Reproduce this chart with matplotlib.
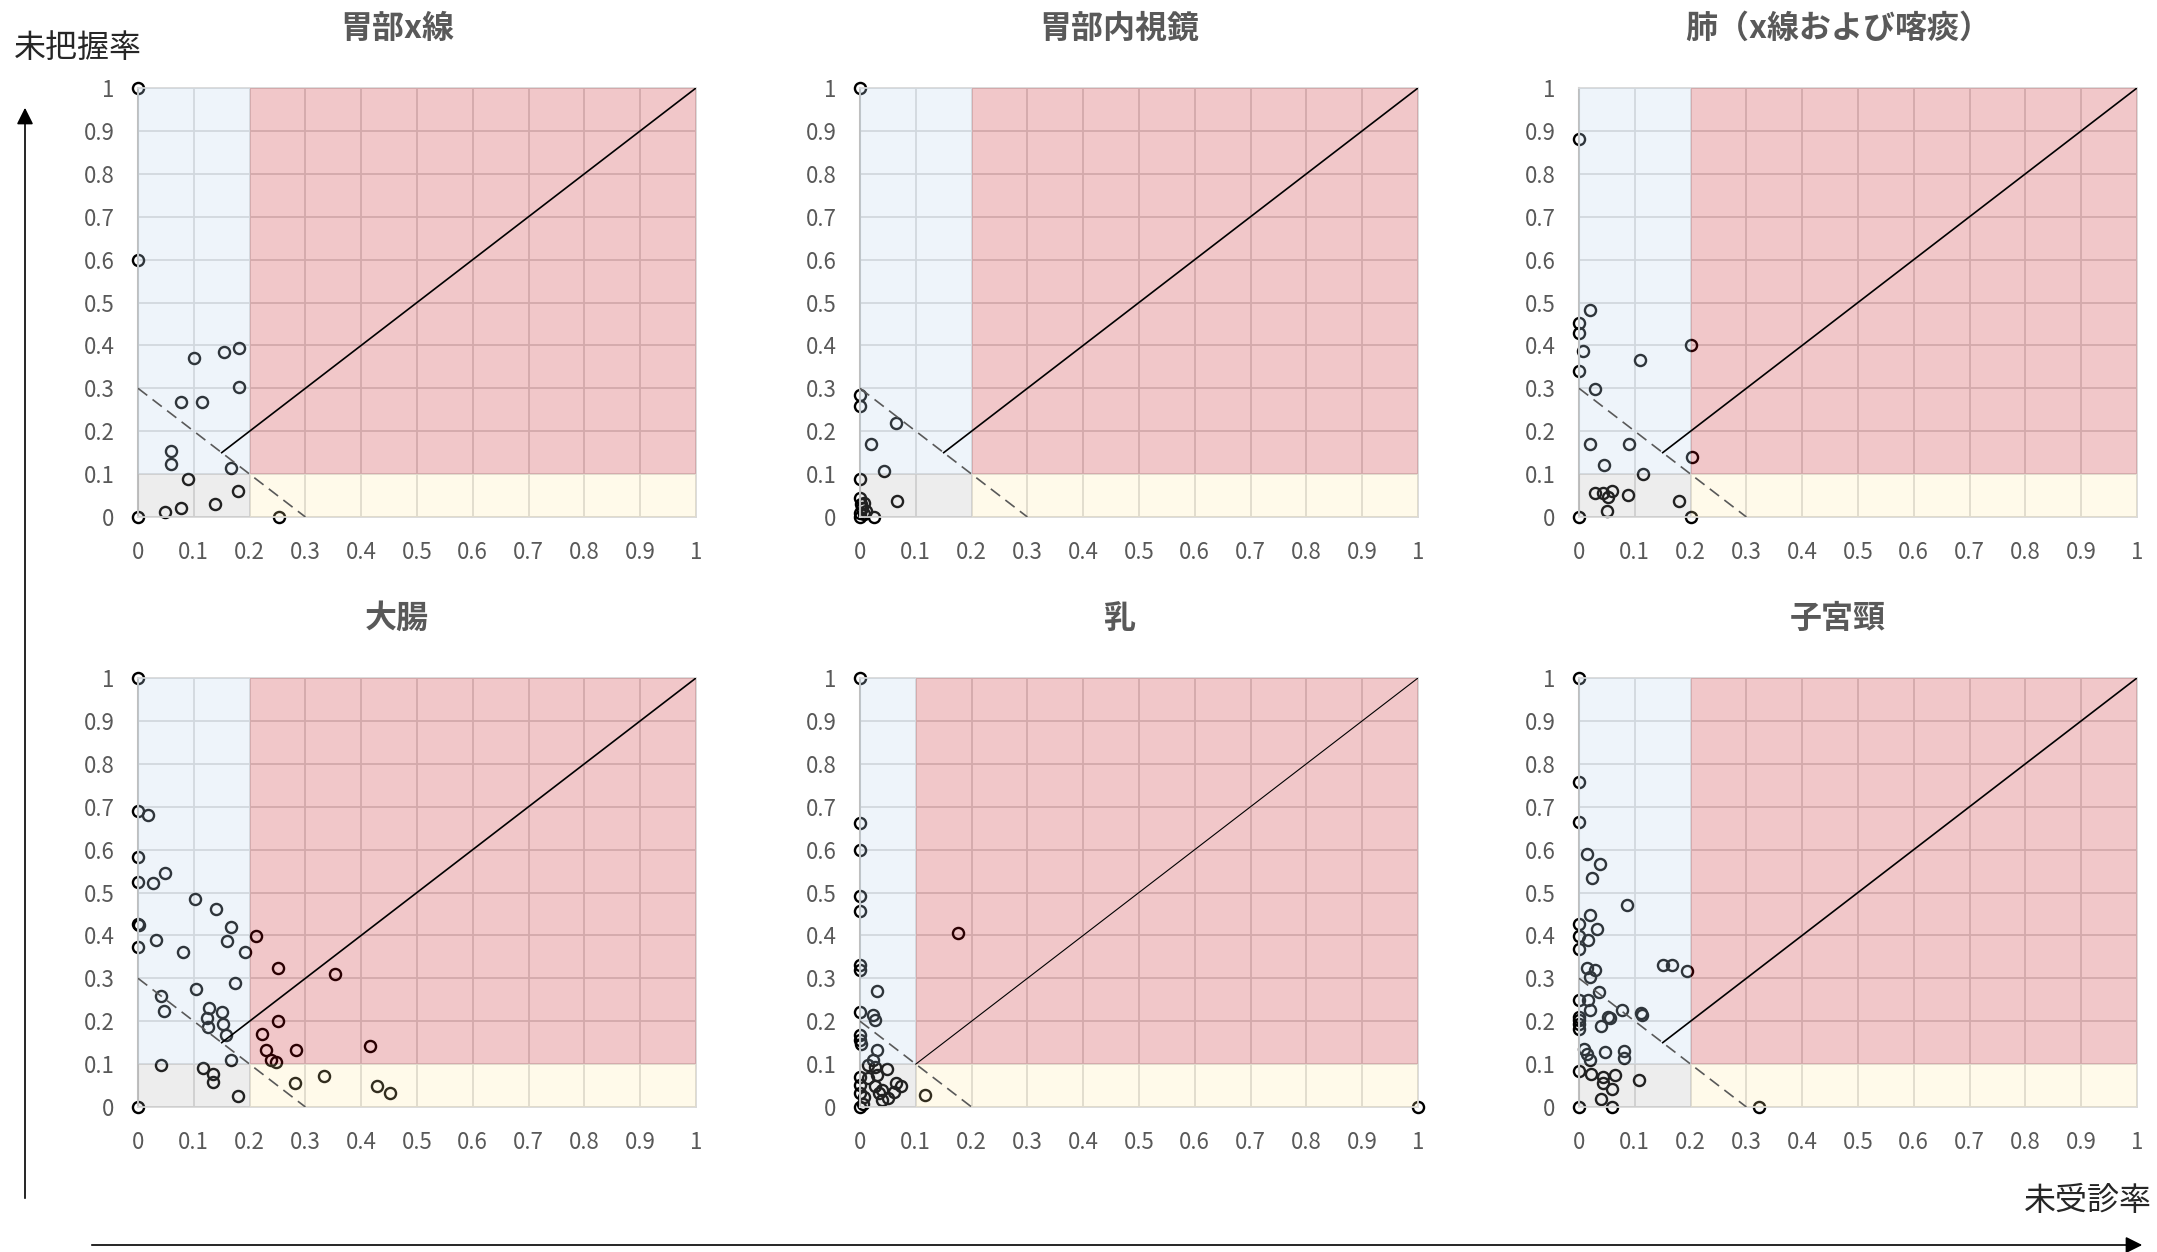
import matplotlib
matplotlib.use("Agg")
import matplotlib.pyplot as plt
from matplotlib.patches import Rectangle, FancyArrowPatch

plt.rcParams['font.family'] = ['Noto Sans CJK JP', 'DejaVu Sans']

# --- data: (未受診率, 未把握率) per cancer type ---
titles = ["胃部x線", "胃部内視鏡", "肺（x線および喀痰）", "大腸", "乳", "子宮頸"]

stomach_xray_x = [0, 0, 0, 0.101, 0.154, 0.181, 0.181, 0.077, 0.115, 0.060, 0.060,
                  0.090, 0.167, 0.180, 0.138, 0.077, 0.048, 0.252]
stomach_xray_y = [1.0, 0.60, 0, 0.371, 0.385, 0.394, 0.304, 0.267, 0.267, 0.154, 0.123,
                  0.089, 0.114, 0.061, 0.030, 0.022, 0.012, 0]

stomach_endo_x = [0, 0, 0, 0.064, 0.019, 0.043, 0, 0.067, 0, 0.007, 0.003, 0, 0,
                  0.011, 0.025, 0.002, 0.008]
stomach_endo_y = [1.0, 0.284, 0.259, 0.218, 0.170, 0.107, 0.089, 0.037, 0.044, 0.033,
                  0.022, 0.010, 0, 0.014, 0, 0.030, 0.006]

lung_x = [0, 0.020, 0, 0, 0.008, 0, 0.029, 0.110, 0.200, 0.019, 0.090, 0.044, 0.114,
          0.202, 0.029, 0.043, 0.060, 0.052, 0.088, 0.179, 0.050, 0, 0.200]
lung_y = [0.881, 0.483, 0.452, 0.428, 0.388, 0.340, 0.298, 0.367, 0.400, 0.170, 0.170,
          0.121, 0.100, 0.139, 0.055, 0.055, 0.061, 0.047, 0.051, 0.037, 0.013, 0, 0]

colon_x = [0, 0, 0.018, 0, 0, 0.027, 0.048, 0.103, 0.139, 0.166, 0, 0.002, 0, 0.032,
           0.080, 0.159, 0.192, 0.211, 0.250, 0.353, 0.174, 0.104, 0.041, 0.047, 0.128,
           0.150, 0.124, 0.153, 0.126, 0.158, 0.250, 0.223, 0.229, 0.284, 0.239, 0.247,
           0.415, 0.042, 0.167, 0.116, 0.134, 0.135, 0.179, 0.282, 0.334, 0.428, 0.452, 0]
colon_y = [1.0, 0.691, 0.680, 0.582, 0.525, 0.523, 0.545, 0.484, 0.462, 0.420, 0.426,
           0.424, 0.372, 0.389, 0.362, 0.386, 0.361, 0.399, 0.323, 0.311, 0.289, 0.275,
           0.258, 0.223, 0.231, 0.221, 0.208, 0.193, 0.186, 0.168, 0.200, 0.171, 0.132,
           0.132, 0.110, 0.104, 0.143, 0.098, 0.110, 0.090, 0.078, 0.059, 0.026, 0.055,
           0.073, 0.048, 0.032, 0]

breast_x = [0, 0, 0, 0, 0, 0.176, 0, 0, 0.030, 0, 0.023, 0.026, 0, 0, 0.002, 0.030,
            0.023, 0.014, 0.026, 0.049, 0, 0.014, 0.030, 0, 0.026, 0.040, 0.064, 0.073,
            0.061, 0.040, 0, 0.008, 0.005, 0, 0.116, 1.0, 0.034, 0.050]
breast_y = [1.0, 0.661, 0.600, 0.493, 0.456, 0.405, 0.331, 0.320, 0.270, 0.221, 0.215,
            0.203, 0.168, 0.156, 0.146, 0.132, 0.109, 0.098, 0.094, 0.089, 0.071, 0.067,
            0.075, 0.051, 0.049, 0.040, 0.055, 0.049, 0.036, 0.016, 0.032, 0.024, 0.006,
            0, 0.028, 0, 0.032, 0.020]

cervix_x = [0, 0, 0, 0.014, 0.037, 0.024, 0.086, 0.019, 0, 0.032, 0, 0.016, 0, 0.015,
            0.028, 0.019, 0.150, 0.166, 0.194, 0.035, 0, 0.016, 0.020, 0.077, 0, 0, 0,
            0, 0.052, 0.055, 0.112, 0.113, 0.040, 0.009, 0.015, 0.020, 0.046, 0.080,
            0.081, 0, 0.021, 0.043, 0.065, 0.043, 0.107, 0.059, 0.039, 0, 0.059, 0.322]
cervix_y = [1.0, 0.758, 0.665, 0.589, 0.566, 0.533, 0.470, 0.447, 0.426, 0.416, 0.398,
            0.389, 0.368, 0.324, 0.319, 0.302, 0.330, 0.330, 0.318, 0.268, 0.249, 0.249,
            0.227, 0.227, 0.210, 0.202, 0.193, 0.182, 0.210, 0.208, 0.220, 0.214, 0.189,
            0.136, 0.123, 0.109, 0.128, 0.131, 0.114, 0.084, 0.076, 0.070, 0.075, 0.056,
            0.062, 0.041, 0.018, 0, 0, 0]

xs = [stomach_xray_x, stomach_endo_x, lung_x, colon_x, breast_x, cervix_x]
ys = [stomach_xray_y, stomach_endo_y, lung_y, colon_y, breast_y, cervix_y]
thresholds = [0.2, 0.2, 0.2, 0.2, 0.1, 0.2]   # 未受診率 threshold per panel
y_threshold = 0.1

tick_vals = [i / 10 for i in range(11)]
tick_labels = ["0"] + [f"{v:.1f}" for v in tick_vals[1:-1]] + ["1"]

W, H = 2157, 1252
fig = plt.figure(figsize=(W / 100, H / 100), dpi=100)

lefts = [138, 860, 1579]
tops = [88, 678]
aw, ah = 558, 429

for i, title in enumerate(titles):
    l = lefts[i % 3]
    t = tops[i // 3]
    ax = fig.add_axes([l / W, 1 - (t + ah) / H, aw / W, ah / H])
    th = thresholds[i]

    ax.set_xlim(0, 1)
    ax.set_ylim(0, 1)
    ax.set_xticks(tick_vals)
    ax.set_yticks(tick_vals)
    ax.set_xticklabels(tick_labels)
    ax.set_yticklabels(tick_labels)
    ax.tick_params(length=0, labelsize=16, labelcolor='#595959', pad=17)
    ax.grid(True, color='#D9D9D9', lw=1.3, zorder=1)
    ax.set_axisbelow(True)
    for side in ['top', 'right', 'bottom']:
        ax.spines[side].set_color('#D9D9D9')
        ax.spines[side].set_linewidth(1.3)
    ax.spines['left'].set_color('#BFBFBF')
    ax.spines['left'].set_linewidth(1.5)

    # shaded zones drawn over grid and markers with transparency
    ax.add_patch(Rectangle((0, y_threshold), th, 1 - y_threshold,
                           color='#BDD7EE', alpha=0.25, lw=0, zorder=3))
    ax.add_patch(Rectangle((0, 0), th, y_threshold,
                           color='#A6A6A6', alpha=0.2, lw=0, zorder=3))
    ax.add_patch(Rectangle((th, y_threshold), 1 - th, 1 - y_threshold,
                           color='#C0000A', alpha=0.22, lw=0, zorder=3))
    ax.add_patch(Rectangle((th, 0), 1 - th, y_threshold,
                           color='#FFE699', alpha=0.2, lw=0, zorder=3))

    ax.plot(xs[i], ys[i], 'o', ms=8, mfc='none', mec='black', mew=1.7,
            zorder=2, clip_on=False)

    # reference lines
    d = th + y_threshold
    ax.plot([0, d], [d, 0], ls=(0, (7, 4)), color='#595959', lw=1.2, zorder=4)
    ax.plot([d / 2, 1], [d / 2, 1], color='black',
            lw=0.8 if th < 0.2 else 1.2, zorder=4)

    ax.text(0.5 - 20 / aw, 1 + 43 / ah, title, transform=ax.transAxes,
            fontsize=23, fontweight='bold', color='#595959',
            ha='center', va='bottom')

# axis arrows and labels
arrow_style = dict(arrowstyle='-|>', color='black', lw=1.2, mutation_scale=25)
fig.add_artist(FancyArrowPatch((25 / W, 1 - 1201 / H), (25 / W, 1 - 105 / H),
                               transform=fig.transFigure, **arrow_style))
fig.add_artist(FancyArrowPatch((89 / W, 1 - 1245 / H), (2145 / W, 1 - 1245 / H),
                               transform=fig.transFigure, **arrow_style))
fig.text(14 / W, 1 - 48 / H, "未把握率", fontsize=23, color='#262626',
         ha='left', va='center')
fig.text(2152 / W, 1 - 1201 / H, "未受診率", fontsize=23, color='#262626',
         ha='right', va='center')

fig.savefig("out.png", dpi=100)
